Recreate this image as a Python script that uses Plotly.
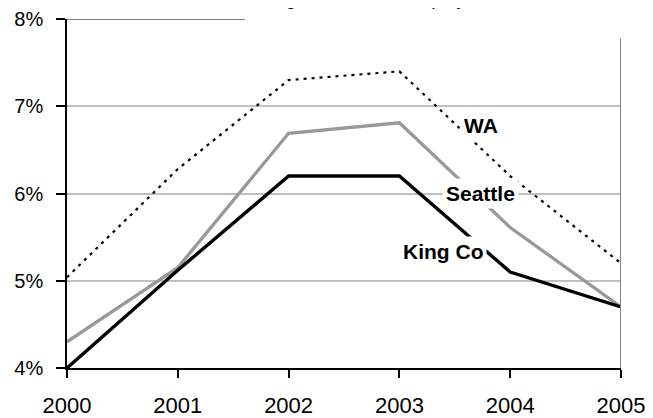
import plotly.graph_objects as go

years = [2000, 2001, 2002, 2003, 2004, 2005]
wa = [5.04, 6.28, 7.30, 7.40, 6.20, 5.20]
seattle = [4.30, 5.15, 6.69, 6.81, 5.61, 4.70]
king_co = [4.00, 5.12, 6.20, 6.20, 5.10, 4.70]

y_ticks = [4, 5, 6, 7, 8]
y_tick_text = ["4%", "5%", "6%", "7%", "8%"]
x_ticks = years
x_tick_text = ["2000", "2001", "2002", "2003", "2004", "2005"]

series_labels = ["WA", "Seattle", "King Co"]
label_x = [2003.74, 2003.73, 2003.39]
label_y = [6.78, 6.00, 5.33]

title_text = "King Co. Area Unemployment Rates"

tick_font = "Liberation Sans Narrow, Arial Narrow, Liberation Sans, Arial, sans-serif"
label_font = "Liberation Sans, Arial, sans-serif"

# page offset of the figure (body margin)
OFF = 8
W, H = 645, 410
# plot area in page pixels: x 67..621, y 18.5..368
ml = 67 - OFF
mt = 18.5 - OFF
mr = W - (621 - OFF)
mb = H - (368 - OFF)
pw, ph = W - ml - mr, H - mt - mb

def px_to_paper_x(p):
    return (p - OFF - ml) / pw

def px_to_paper_y(p):
    return 1 - (p - OFF - mt) / ph

fig = go.Figure()
fig.add_trace(go.Scatter(x=years, y=wa, mode="lines", name="WA",
                         line=dict(color="black", width=2.2, dash="3px,5px")))
fig.add_trace(go.Scatter(x=years, y=seattle, mode="lines", name="Seattle",
                         line=dict(color="#999999", width=3.3)))
fig.add_trace(go.Scatter(x=years, y=king_co, mode="lines", name="King Co",
                         line=dict(color="black", width=3.4)))

for t, lx, ly in zip(series_labels, label_x, label_y):
    fig.add_annotation(x=lx, y=ly, xref="x", yref="y", text="<b>%s</b>" % t,
                       showarrow=False, bgcolor="white", borderpad=3,
                       font=dict(family=label_font, size=21, color="black"))

# white title box covering the frame behind the title
fig.add_shape(type="rect", xref="paper", yref="paper",
              x0=px_to_paper_x(245), x1=px_to_paper_x(660),
              y0=px_to_paper_y(37), y1=px_to_paper_y(-5),
              fillcolor="white", line=dict(width=0), layer="above")
# top frame segment (8% line)
fig.add_shape(type="line", xref="paper", yref="y",
              x0=0, x1=px_to_paper_x(245), y0=8, y1=8,
              line=dict(color="#808080", width=2), layer="above")
# right frame
fig.add_shape(type="line", xref="x", yref="paper",
              x0=2005, x1=2005, y0=0, y1=px_to_paper_y(38),
              line=dict(color="#808080", width=2), layer="above")

# title, mostly above the visible page as in the reference
fig.add_annotation(x=px_to_paper_x(256), y=px_to_paper_y(10), xref="paper", yref="paper",
                   xanchor="left", yanchor="bottom", text=title_text, showarrow=False,
                   font=dict(family=label_font, size=19, color="black"))

fig.update_layout(
    width=W, height=H,
    margin=dict(l=ml, r=mr, t=mt, b=mb, autoexpand=False),
    plot_bgcolor="white", paper_bgcolor="white",
    showlegend=False,
)
fig.update_xaxes(range=[2000, 2005], tickvals=x_ticks, ticktext=x_tick_text,
                 showgrid=False, showline=True, linecolor="black", linewidth=1.5,
                 ticks="outside", ticklen=8, tickwidth=1.5, tickcolor="black",
                 ticklabelstandoff=9, zeroline=False,
                 tickfont=dict(family=tick_font, size=22, color="black"))
fig.update_yaxes(range=[4, 8], tickvals=y_ticks, ticktext=y_tick_text,
                 showgrid=True, gridcolor="#c0c0c0", gridwidth=1.5,
                 showline=True, linecolor="black", linewidth=1.5,
                 ticks="outside", ticklen=9, tickwidth=1.5, tickcolor="black",
                 ticklabelstandoff=9, zeroline=False,
                 tickfont=dict(family=tick_font, size=20, color="black"))

fig.write_html("out.html")
